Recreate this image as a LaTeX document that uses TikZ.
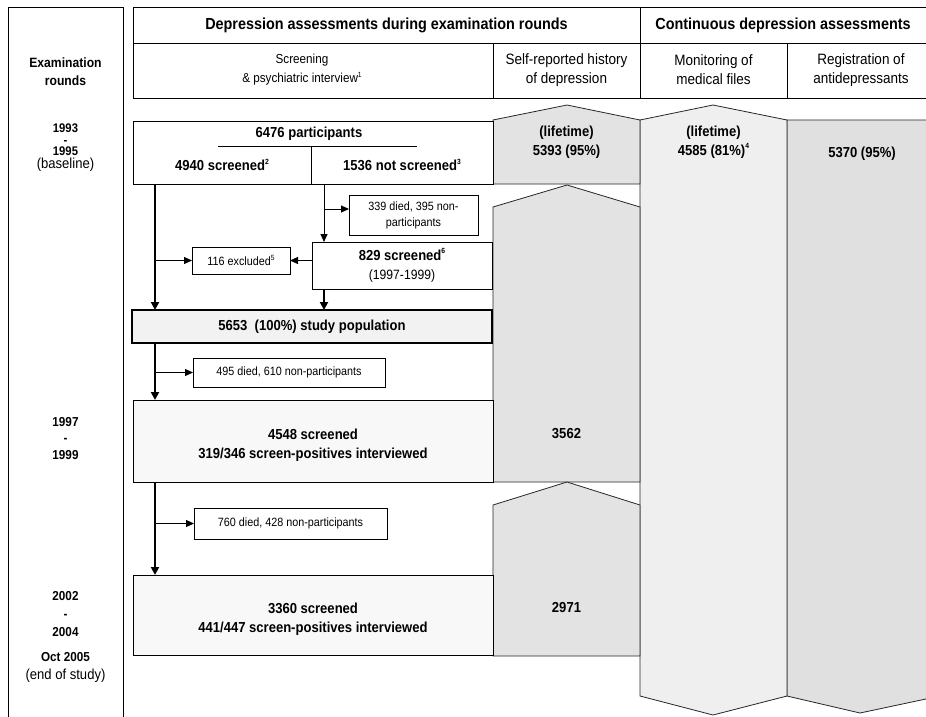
\documentclass[tikz,border=0pt]{standalone}
\usepackage{fontspec}
\setmainfont{Liberation Sans}[FakeStretch=0.9]
\usetikzlibrary{arrows.meta,calc}
\definecolor{srfill}{HTML}{E3E3E3}
\definecolor{mofill}{HTML}{EFEFEF}
\definecolor{rgfill}{HTML}{E0E0E0}
\definecolor{popfill}{HTML}{F2F2F2}
\definecolor{rndfill}{HTML}{F8F8F8}
\newcommand\fsz[2]{\fontsize{#1}{#2}\selectfont}
\newcommand\sups[1]{\raisebox{0.45em}{\fontsize{7.5}{7.5}\selectfont #1}}
\begin{document}
\begin{tikzpicture}[x=1pt,y=-1pt,
 every node/.style={inner sep=0pt, outer sep=0pt},
 frame/.style={draw=black, line width=0.9pt},
 boxnode/.style={draw=black, line width=0.9pt, fill=white, rectangle},
 txthead/.style={font=\bfseries\fsz{16}{19}},
 txtcol/.style={font=\fsz{15}{19}, align=center},
 txtyear/.style={font=\bfseries\fsz{13}{17}, align=center},
 txtbold/.style={font=\bfseries\fsz{14.5}{19}, align=center},
 txtsmall/.style={font=\fsz{12}{16}, align=center},
 trunk/.style={line width=2pt, -{Triangle[length=8pt,width=8pt]}},
 branch/.style={line width=1pt, -{Triangle[length=8pt,width=7pt]}},
 grayshape/.style={draw=black!85, line width=0.8pt}
]
\useasboundingbox (0,0) rectangle (926,716);
% continuous assessment columns
\draw[grayshape, fill=rgfill] (787,120) -- (940,120) -- (940,696) -- (860,713) -- (787,696) -- cycle;
\draw[grayshape, fill=mofill] (640,696) -- (640,120) -- (713,105) -- (787,120) -- (787,696) -- (713,715) -- cycle;
% self-reported history
\draw[grayshape, fill=srfill] (493,184) -- (493,120) -- (567,105) -- (640,120) -- (640,184) -- cycle;
\draw[grayshape, fill=srfill] (493,482) -- (493,207) -- (567,185) -- (640,207) -- (640,482) -- cycle;
\draw[grayshape, fill=srfill] (493,656) -- (493,505) -- (567,482) -- (640,505) -- (640,656) -- cycle;
% header frame
\draw[frame] (8,725) -- (8,7) -- (123,7) -- (123,725);
\draw[frame] (940,7) -- (133,7) -- (133,98) -- (940,98);
\draw[frame] (133,43) -- (940,43);
\draw[frame] (640,7) -- (640,98);
\draw[frame] (493,43) -- (493,98);
\draw[frame] (787,43) -- (787,98);
% header texts
\node[txthead] (h1) at (386.5,25) {Depression assessments during examination rounds};
\node[txthead] (h2) at (783,25) {Continuous depression assessments};
\node[txtyear, font=\bfseries\fsz{13.5}{18}] (hx) at (65.5,72) {Examination\\rounds};
\node[txtcol, font=\fsz{13}{19}] (hs) at (302,70) {Screening\\\& psychiatric interview\sups{1}};
\node[txtcol] (hsr) at (566.5,70) {Self-reported history\\of depression};
\node[txtcol] (hmo) at (713.5,70) {Monitoring of\\medical files};
\node[txtcol] (hrg) at (861,70) {Registration of\\antidepressants};
% years
\node[txtyear, font=\bfseries\fsz{12.5}{11.2}] (y1) at (65.5,148) {1993\\-\\1995\\[2.5pt]{\mdseries\fsz{14.5}{11.2}(baseline)}};
\node[txtyear, font=\bfseries\fsz{13}{16.5}] (y2) at (65.5,438.5) {1997\\-\\1999};
\node[txtyear, font=\bfseries\fsz{13}{18}] (y3) at (65.5,614) {2002\\-\\2004};
\node[txtyear, font=\bfseries\fsz{13}{18}] (y4) at (65.5,667) {Oct 2005\\{\mdseries\fsz{14.5}{18}(end of study)}};
% values in gray columns
\node[txtbold] (v1) at (566.5,142) {(lifetime)\\5393 (95\%)};
\node[txtbold] (v2) at (713.5,142) {(lifetime)\\4585 (81\%)\sups{4}};
\node[txtbold] (v3) at (862,154) {5370 (95\%)};
\node[txtbold] (v4) at (566.5,434) {3562};
\node[txtbold] (v5) at (566.5,607) {2971};
% boxes
\node[boxnode, minimum width=360pt, minimum height=63pt] (top) at (313,152.5) {};
\draw[line width=0.9pt] (218,146) -- (417,146);
\draw[line width=0.9pt] (311,146) -- (311,184);
\node[txtbold] (t6476) at (309,134) {6476 participants};
\node[txtbold] (t4940) at (222,165) {4940 screened\sups{2}};
\node[txtbold] (t1536) at (402,165) {1536 not screened\sups{3}};
\node[boxnode, minimum width=129pt, minimum height=40pt, txtsmall] (b339) at (413.5,215) {339 died, 395 non-\\participants};
\node[boxnode, minimum width=98pt, minimum height=27pt, txtsmall] (b116) at (241,260.5) {116 excluded\sups{5}};
\node[boxnode, minimum width=180pt, minimum height=47pt, txtbold] (b829) at (402,265.5) {829 screened\sups{6}\\{\mdseries\fsz{13.5}{18}(1997-1999)}};
\node[boxnode, minimum width=360pt, minimum height=33pt, line width=2pt, fill=popfill, txtbold] (pop) at (312,326.5) {5653\ \ (100\%) study population};
\node[boxnode, minimum width=192pt, minimum height=29pt, txtsmall] (b495) at (289,372.5) {495 died, 610 non-participants};
\node[boxnode, minimum width=360pt, minimum height=82pt, fill=rndfill] (b4548) at (313,441) {};
\node[txtbold] (t4548) at (313,445.5) {4548 screened\\319/346 screen-positives interviewed};
\node[boxnode, minimum width=193pt, minimum height=31pt, txtsmall] (b760) at (290.5,523.5) {760 died, 428 non-participants};
\node[boxnode, minimum width=360pt, minimum height=80pt, fill=rndfill] (b3360) at (313,615) {};
\node[txtbold] (t3360) at (313,619) {3360 screened\\441/447 screen-positives interviewed};
% trunks
\coordinate (xL) at (155,0);
\coordinate (xR) at (324,0);
\draw[trunk] (top.south -| xL) -- (pop.north -| xL);
\draw[branch] (xL |- b116.west) -- (b116.west);
\draw[branch] (top.south -| xR) -- (b829.north -| xR);
\draw[branch] ($(xR |- b339.west)+(0,-6)$) -- ($(b339.west)+(0,-6)$);
\draw[branch] (b829.west |- b116.east) -- (b116.east);
\draw[trunk] (b829.south -| xR) -- (pop.north -| xR);
\draw[trunk] (pop.south -| xL) -- (b4548.north -| xL);
\draw[branch] (xL |- b495.west) -- (b495.west);
\draw[trunk] (b4548.south -| xL) -- (b3360.north -| xL);
\draw[branch] (xL |- b760.west) -- (b760.west);
\end{tikzpicture}
\end{document}
